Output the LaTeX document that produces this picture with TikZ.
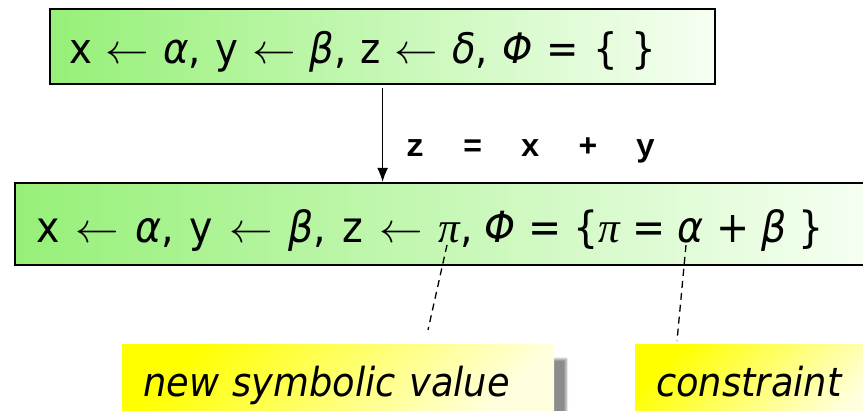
\documentclass[tikz,border=0pt]{standalone}
\usepackage{fontspec}
\setmainfont{DejaVu Sans}[FakeStretch=0.92]
\newfontfamily\pifont{Liberation Serif}
\newfontfamily\codefont{Liberation Mono}
\usetikzlibrary{arrows.meta,shadows.blur,positioning}
\definecolor{boxgreen}{RGB}{150,240,120}
\definecolor{boxpale}{RGB}{246,255,242}
\newcommand{\gk}[1]{\textit{#1}}
\newcommand{\spi}{{\pifont\itshape π}}
\newcommand{\la}{\scalebox{4.35}[4.2]{\fontsize{10}{12}\selectfont$\leftarrow$}}
\begin{document}
\begin{tikzpicture}[x=1pt, y=-1pt, >={Latex[length=14pt,width=11pt]},
    statebox/.style={draw, line width=2.2pt, anchor=base west, inner ysep=0pt,
        align=left, left color=boxgreen, right color=boxpale},
    notebox/.style={anchor=base west, inner ysep=0pt, inner xsep=21pt,
        text height=52pt, text depth=28pt, align=left,
        top color=yellow, bottom color=yellow!12, shading angle=45,
        font=\fontsize{40}{48}\selectfont\itshape,
        blur shadow={shadow xshift=12pt, shadow yshift=-14pt,
            shadow blur steps=6, shadow opacity=45}},
    link/.style={dash pattern=on 7pt off 5pt, line width=1.3pt}]
    \path[use as bounding box] (0,0) rectangle (863,411);
    \clip (0,0) rectangle (863,411);

    \node[statebox, font=\fontsize{42}{50}\selectfont, inner xsep=19pt,
        text width=627pt, text height=55pt, text depth=20pt]
        (before) at (49,64) {x \la{} \gk{α}, y \la{} \gk{β}, z \la{} \gk{δ}, \gk{Φ} = \{ \}};
    \node[statebox, font=\fontsize{43}{50}\selectfont, inner xsep=21pt,
        text width=809pt, text height=60pt, text depth=22pt]
        (after) at (14,243) {{\spaceskip=16pt x \la{} \gk{α}, y \la{} \gk{β}, z \la{} }\spi,%
        {\spaceskip=12.2pt{} \gk{Φ} = \{\spi{} = \gk{α} + \gk{β} \}}};

    \draw[->, line width=1.3pt, shorten <=3pt] (before.south) -- (before.south |- after.north);
    \node[anchor=base west, font=\fontsize{32}{38}\codefont\bfseries]
        (stmt) at (402,157) {z\ \ =\ \ x\ \ +\ \ y};

    \node[notebox, text width=390pt] (fresh) at (122,397) {new symbolic value};
    \node[notebox, text width=200pt] (constr) at (635,397) {constraint};

    \coordinate (piref) at (447,245);
    \coordinate (piend) at (428,330);
    \coordinate (alref) at (686,245);
    \coordinate (alend) at (677,341);
    \draw[link] (piref) -- (piend);
    \draw[link] (alref) -- (alend);
\end{tikzpicture}
\end{document}
